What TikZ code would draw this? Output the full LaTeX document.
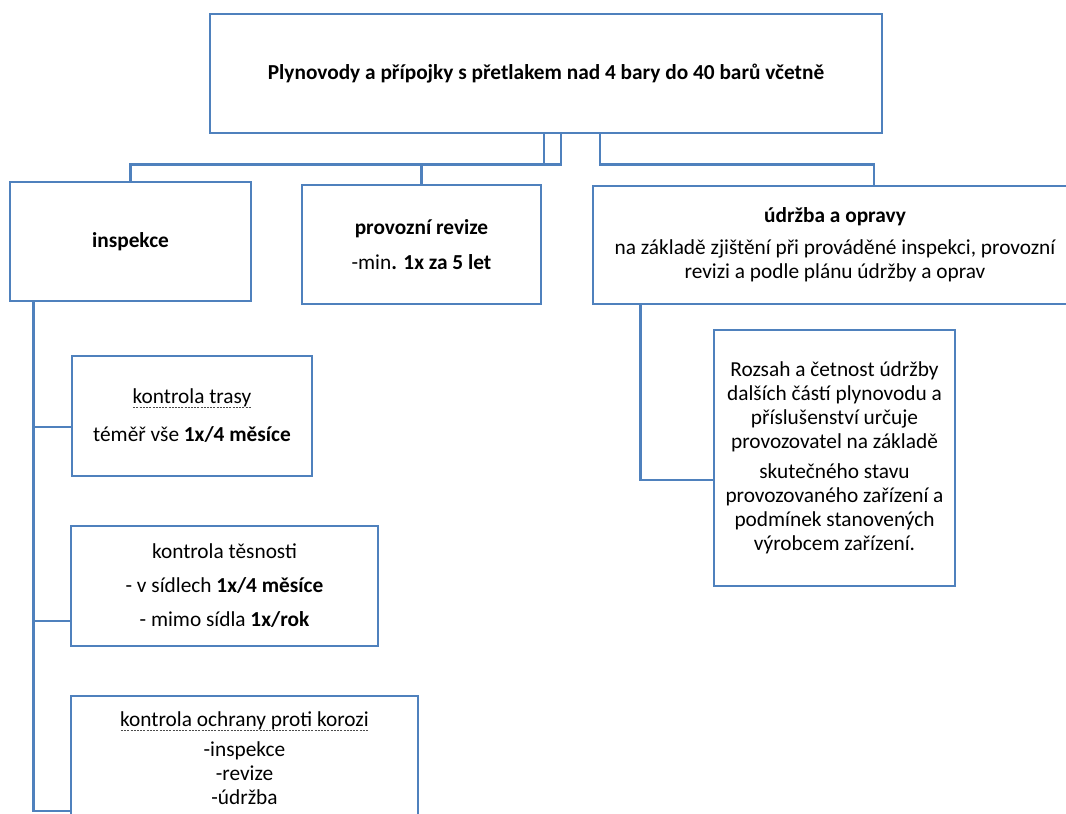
\documentclass[tikz,border=0pt]{standalone}
\usepackage{fontspec}
\setmainfont{Carlito}
\definecolor{boxblue}{RGB}{79,129,189}
% dashed underline used for the checked-item headings
\newcommand\dotul[1]{\setbox0\hbox{#1}\rlap{\raisebox{-3pt}{\color{black!70}\hbox to \wd0{\xleaders\hbox to 2.4pt{\hss\rule{1.5pt}{0.6pt}\hss}\hfill}}}\box0}
\tikzset{
  box/.style={draw=boxblue, line width=2.2pt, fill=white, inner sep=0pt,
    align=center, text=black, font=\fontsize{16}{18}\selectfont},
  link/.style={draw=boxblue, line width=2pt},
}
\begin{document}
\begin{tikzpicture}[x=0.75pt,y=0.75pt]
\clip (0,0) rectangle (1066,-813);
\fill[white] (0,0) rectangle (1066,-813);

% top level
\node[box, minimum width=504pt, minimum height=89.25pt] (top) at (546,-73.5)
  {\textbf{Plynovody a přípojky s přetlakem nad 4 bary do 40 barů včetně}};

% second level
\node[box, minimum width=180.75pt, minimum height=89.25pt] (ins) at (130.5,-241.5)
  {\textbf{inspekce}};
\node[box, minimum width=179.25pt, minimum height=89.25pt] (prov) at (421.5,-244.5)
  {\textbf{provozní revize}\\[8.25pt]-min\textbf{. 1x za 5 let}};
\node[box, minimum width=363pt, minimum height=88.5pt] (udr) at (835,-245)
  {\textbf{údržba a opravy}\\[6pt]na základě zjištění při prováděné inspekci, provozní\\revizi a podle plánu údržby a oprav};

% inspection items
\node[box, minimum width=180pt, minimum height=90pt] (tr) at (192,-416)
  {\dotul{kontrola trasy}\\[10.5pt]téměř vše \textbf{1x/4 měsíce}};
\node[box, minimum width=230.25pt, minimum height=90pt] (tes) at (224.5,-586)
  {kontrola těsnosti\\[7.5pt]- v sídlech \textbf{1x/4 měsíce}\\[7.5pt]- mimo sídla \textbf{1x/rok}};
\node[box, minimum width=260.25pt, minimum height=93pt] (kor) at (244.5,-758)
  {\dotul{kontrola ochrany proti korozi}\\[4.5pt]-inspekce\\-revize\\-údržba};

% maintenance detail
\node[box, minimum width=180.75pt, minimum height=192pt] (roz) at (834.5,-458)
  {Rozsah a četnost údržby\\dalších částí plynovodu a\\příslušenství určuje\\provozovatel na základě\\[4.5pt]skutečného stavu\\provozovaného zařízení a\\podmínek stanovených\\výrobcem zařízení.};

% connectors from the top box
\draw[link] ([xshift=-1.5pt]top.south) -- ++(0,-30) -| (ins.north);
\draw[link] ([xshift=11.25pt]top.south) -- ++(0,-30) -| (prov.north);
\draw[link] ([xshift=40.5pt]top.south) -- ++(0,-30) -| ([xshift=29.25pt]udr.north);

% inspection trunk
\draw[link] ([xshift=18.75pt]ins.south west) |- ([yshift=-8.25pt]tr.west);
\draw[link] ([xshift=18.75pt]ins.south west) |- ([yshift=-26.25pt]tes.west);
\draw[link] ([xshift=18.75pt]ins.south west) |- ([yshift=-39.75pt]kor.west);

% maintenance branch
\draw[link] ([xshift=36.75pt]udr.south west) |- ([yshift=-16.5pt]roz.west);
\end{tikzpicture}
\end{document}
